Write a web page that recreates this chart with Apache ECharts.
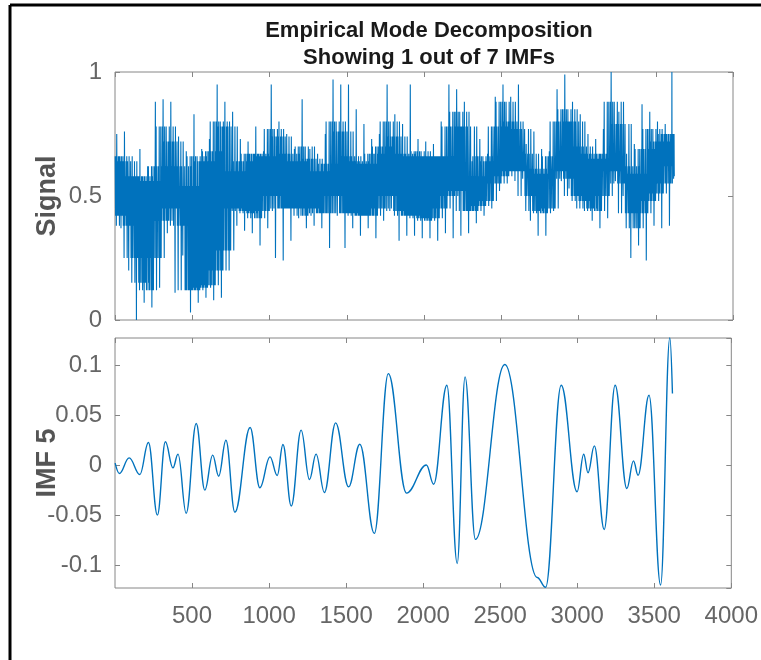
<!DOCTYPE html>
<html>
<head>
<meta charset="utf-8">
<script src="https://cdn.jsdelivr.net/npm/echarts@6/dist/echarts.min.js"></script>
<style>
html, body { margin: 0; padding: 0; background: #fff; }
#emd { width: 761px; height: 660px; }
</style>
</head>
<body>
<div id="emd"></div>
<script>
// top panel: signal in bins of 50 samples
// per bin: highest spike, lowest spike, top and bottom of the dense band
const binSize = 50;
const sigPeak = [0.75, 0.76, 0.66, 0.69, 0.62, 0.88, 0.89, 0.88, 0.74, 0.68, 0.83, 0.69, 0.73, 0.95, 0.88, 0.84, 0.73, 0.72, 0.78, 0.68,
  0.95, 0.80, 0.75, 0.69, 0.89, 0.69, 0.67, 0.75, 0.97, 0.95, 0.95, 0.85, 0.79, 0.73, 0.75, 0.95, 0.83, 0.79, 0.95, 0.73,
  0.72, 0.71, 0.80, 0.95, 0.93, 0.88, 0.64, 0.73, 0.67, 0.90, 0.95, 0.90, 0.95, 0.71, 0.76, 0.69, 0.68, 0.93, 0.99, 0.88,
  0.83, 0.75, 0.73, 0.77, 1.00, 0.84, 0.67, 0.71, 0.87, 0.84, 0.80, 0.79, 1.00];
const sigTrough = [0.37, 0.20, 0.00, 0.07, 0.05, 0.13, 0.35, 0.11, 0.26, 0.03, 0.07, 0.09, 0.08, 0.09, 0.20, 0.38, 0.36, 0.35, 0.30, 0.37,
  0.25, 0.24, 0.32, 0.41, 0.37, 0.38, 0.37, 0.29, 0.42, 0.29, 0.37, 0.34, 0.37, 0.33, 0.40, 0.45, 0.32, 0.34, 0.34, 0.33,
  0.33, 0.32, 0.35, 0.33, 0.34, 0.35, 0.39, 0.42, 0.45, 0.52, 0.55, 0.56, 0.57, 0.40, 0.34, 0.34, 0.44, 0.56, 0.53, 0.45,
  0.44, 0.40, 0.37, 0.41, 0.56, 0.50, 0.25, 0.30, 0.24, 0.38, 0.37, 0.38, 0.57];
const sigBandTop = [0.66, 0.64, 0.58, 0.58, 0.56, 0.62, 0.78, 0.72, 0.62, 0.54, 0.66, 0.64, 0.68, 0.80, 0.78, 0.60, 0.64, 0.67, 0.67, 0.66,
  0.77, 0.74, 0.67, 0.64, 0.70, 0.65, 0.60, 0.63, 0.80, 0.76, 0.66, 0.64, 0.63, 0.67, 0.70, 0.80, 0.74, 0.67, 0.66, 0.68,
  0.66, 0.66, 0.66, 0.78, 0.84, 0.78, 0.58, 0.66, 0.64, 0.78, 0.88, 0.80, 0.77, 0.67, 0.61, 0.59, 0.66, 0.80, 0.85, 0.80,
  0.70, 0.67, 0.65, 0.67, 0.88, 0.79, 0.62, 0.59, 0.69, 0.77, 0.72, 0.75, 0.75];
const sigBandBot = [0.42, 0.38, 0.25, 0.15, 0.12, 0.25, 0.40, 0.45, 0.38, 0.12, 0.12, 0.13, 0.14, 0.20, 0.28, 0.45, 0.44, 0.43, 0.41, 0.44,
  0.50, 0.45, 0.45, 0.45, 0.42, 0.45, 0.43, 0.43, 0.50, 0.43, 0.43, 0.42, 0.42, 0.42, 0.45, 0.50, 0.44, 0.42, 0.42, 0.41,
  0.40, 0.41, 0.45, 0.50, 0.52, 0.44, 0.44, 0.46, 0.48, 0.55, 0.58, 0.60, 0.60, 0.50, 0.44, 0.43, 0.45, 0.60, 0.57, 0.50,
  0.48, 0.45, 0.44, 0.50, 0.60, 0.55, 0.43, 0.37, 0.43, 0.48, 0.51, 0.55, 0.62];
const sigLength = 3620;
const sigEnd = 0.58;

// bottom panel: turning points of IMF 5 (sample, value)
const imfS = [1, 28, 92, 161, 217, 275, 327, 376, 409, 462, 527, 583, 634, 673, 720, 778, 877, 940, 1006, 1053,
  1090, 1144, 1208, 1262, 1305, 1359, 1432, 1516, 1589, 1683, 1774, 1892, 2021, 2068, 2154, 2221, 2272, 2339, 2530, 2740,
  2795, 2896, 2999, 3042, 3070, 3111, 3175, 3246, 3322, 3365, 3395, 3466, 3541, 3601, 3618];
const imfV = [0.002, -0.0083, 0.0073, -0.0093, 0.0226, -0.0498, 0.0233, -0.0027, 0.011, -0.048, 0.0415, -0.0249, 0.0100, -0.011, 0.0249, -0.047, 0.0375, -0.0226, 0.0083, -0.0103,
  0.0206, -0.0408, 0.0349, -0.0143, 0.011, -0.0272, 0.0422, -0.0216, 0.0209, -0.068, 0.0913, -0.0279, 0.0001, -0.019, 0.0797, -0.098, 0.088, -0.074, 0.1003, -0.112,
  -0.1218, 0.0797, -0.0265, 0.0109, -0.0076, 0.0192, -0.0641, 0.0797, -0.0233, 0.0043, -0.0100, 0.0697, -0.1195, 0.127, 0.0714];

const xMax = 4000;
const xStep = 500;
const imfMin = -0.1225;
const imfMax = 0.1268;

// lay each bin out as a zig-zag across the band with one spike up and one down;
// some crossings reach the band edge of a neighbouring bin so the edges stay ragged
const order = ['top', 'bot', 'top', 'bot', 'peak', 'bot', 'top', 'bot', 'top', 'bot',
  'top', 'bot', 'top', 'bot', 'top', 'trough', 'top', 'bot', 'top', 'bot'];
const nb = [-1, 0, 0, 1, 0, 0, 1, -1, 0, 0, -1, 1, 0, 0, 1, 0, -1, 0, 1, 0];
const sigData = [];
const last = sigPeak.length - 1;
for (let i = 0; i <= last; i++) {
  const start = i * binSize;
  const len = Math.min(binSize, sigLength - start);
  for (let j = 0; j < order.length; j++) {
    const k = Math.max(0, Math.min(last, i + nb[j]));
    let v;
    if (order[j] === 'top') v = sigBandTop[k];
    else if (order[j] === 'bot') v = sigBandBot[k];
    else if (order[j] === 'peak') v = sigPeak[i];
    else v = sigTrough[i];
    sigData.push([start + (j + 0.5) * len / order.length, v]);
  }
}
sigData.push([sigLength, sigEnd]);

const imfData = imfS.map((s, i) => [s, imfV[i]]);

const font = '"Liberation Sans", Arial, Helvetica, sans-serif';
const axisGray = '#868686';
const labelGray = '#666666';
const blue = '#0072BD';

function xAx(grid, pos, labels) {
  return {
    gridIndex: grid, type: 'value', position: pos, min: 0, max: xMax, interval: xStep,
    axisLine: { show: false, onZero: false },
    axisTick: { inside: true, length: 5, lineStyle: { color: axisGray } },
    splitLine: { show: false },
    axisLabel: {
      show: labels, showMinLabel: false, margin: 16, color: labelGray,
      fontSize: 24, fontFamily: font,
      formatter: (v) => (v === 0 ? '' : String(v)),
    },
  };
}

function yAx(grid, pos, min, max, name) {
  return {
    gridIndex: grid, type: 'value', position: pos, min: min, max: max,
    interval: grid === 0 ? 0.5 : null,
    axisLine: { show: false, onZero: false },
    axisTick: { inside: true, length: 5, lineStyle: { color: axisGray } },
    splitLine: { show: false },
    axisLabel: {
      show: !!name, margin: 13, color: labelGray, fontSize: 24, fontFamily: font,
      showMinLabel: grid === 0, showMaxLabel: grid === 0,
    },
    name: name || '',
    nameLocation: 'middle',
    nameGap: 54,
    nameMoveOverlap: false,
    nameTextStyle: { fontSize: 27, fontWeight: 'bold', color: '#555555', fontFamily: font },
  };
}

const chart = echarts.init(document.getElementById('emd'));
chart.setOption({
  backgroundColor: '#ffffff',
  animation: false,
  title: {
    text: 'Empirical Mode Decomposition\nShowing 1 out of 7 IMFs',
    left: 424, top: 12, textAlign: 'center',
    textStyle: { fontSize: 22, fontWeight: 'bold', color: '#1a1a1a', fontFamily: font, lineHeight: 27 },
  },
  graphic: [
    { type: 'line', shape: { x1: 10, y1: 5, x2: 761, y2: 5 }, style: { stroke: '#000', lineWidth: 3 } },
    { type: 'line', shape: { x1: 10, y1: 5, x2: 10, y2: 660 }, style: { stroke: '#000', lineWidth: 3 } },
  ],
  grid: [
    { left: 115, top: 72, width: 618, height: 248, show: true, borderColor: axisGray, borderWidth: 1, backgroundColor: 'transparent' },
    { left: 115, top: 338, width: 618, height: 250, show: true, borderColor: axisGray, borderWidth: 1, backgroundColor: 'transparent' },
  ],
  xAxis: [xAx(0, 'bottom', false), xAx(0, 'top', false), xAx(1, 'bottom', true), xAx(1, 'top', false)],
  yAxis: [yAx(0, 'left', 0, 1, 'Signal'), yAx(0, 'right', 0, 1, null),
    yAx(1, 'left', imfMin, imfMax, 'IMF 5'), yAx(1, 'right', imfMin, imfMax, null)],
  series: [
    {
      type: 'line', xAxisIndex: 0, yAxisIndex: 0, data: sigData,
      showSymbol: false, symbol: 'none',
      lineStyle: { width: 1.1, color: blue }, silent: true,
    },
    {
      type: 'line', xAxisIndex: 2, yAxisIndex: 2, data: imfData,
      showSymbol: false, symbol: 'none', smooth: 0.4, smoothMonotone: 'x',
      lineStyle: { width: 1.4, color: blue }, silent: true,
    },
  ],
});
</script>
</body>
</html>
